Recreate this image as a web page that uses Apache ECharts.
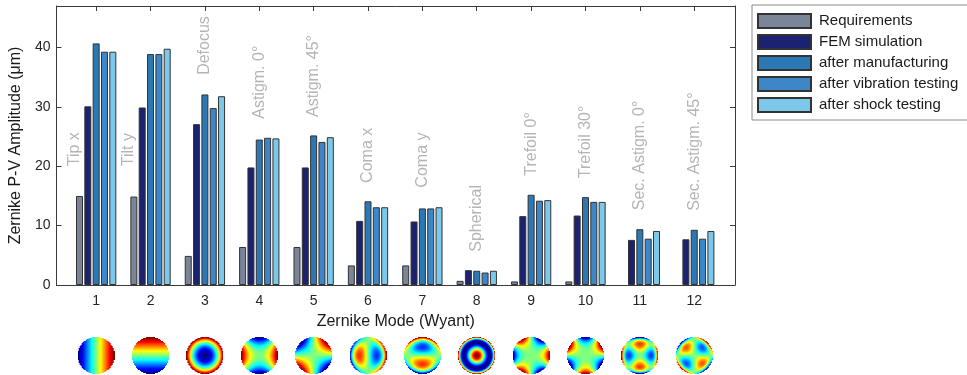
<!DOCTYPE html>
<html>
<head>
<meta charset="utf-8">
<script src="https://cdn.jsdelivr.net/npm/echarts@6/dist/echarts.min.js"></script>
<style>
html,body{margin:0;padding:0;background:#fff;}
#chart{width:967px;height:375px;}
</style>
</head>
<body>
<div id="chart"></div>
<script>
// ---- data ----
const modes = [1, 2, 3, 4, 5, 6, 7, 8, 9, 10, 11, 12];
const modeNames = ['Tip x', 'Tilt y', 'Defocus', 'Astigm. 0°', 'Astigm. 45°', 'Coma x', 'Coma y',
  'Spherical', 'Trefoil 0°', 'Trefoil 30°', 'Sec. Astigm. 0°', 'Sec. Astigm. 45°'];
const requirements      = [15.0, 14.9, 4.9, 6.4, 6.4, 3.3, 3.3, 0.7, 0.6, 0.6, 0, 0];
const femSimulation     = [30.1, 29.9, 27.1, 19.8, 19.8, 10.8, 10.7, 2.5, 11.6, 11.7, 7.6, 7.7];
const afterManufacturing= [40.7, 38.9, 32.1, 24.5, 25.2, 14.1, 12.9, 2.4, 15.2, 14.8, 9.4, 9.3];
const afterVibration    = [39.3, 38.9, 29.8, 24.8, 24.1, 13.1, 12.9, 2.1, 14.2, 14.0, 7.8, 7.8];
const afterShock        = [39.3, 39.8, 31.8, 24.7, 24.9, 13.1, 13.1, 2.4, 14.3, 14.0, 9.1, 9.1];
const seriesNames = ['Requirements', 'FEM simulation', 'after manufacturing', 'after vibration testing', 'after shock testing'];
const yTicks = [0, 10, 20, 30, 40];
// mode-name annotation anchors (axis units: mode position, amplitude)
const annotX = [0.6, 1.59, 3, 4, 5, 6, 7, 8, 9, 10, 11, 12];
const annotY = [20, 20, 35.4, 28, 28.3, 17.2, 16.4, 5.6, 18.4, 18, 12.6, 12.5];

// ---- styles ----
const FONT = '"Liberation Sans", Arial, Helvetica, sans-serif';
const colors = ['#7a8598', '#1b2370', '#2b78b4', '#3d86c8', '#7cc8ea'];
const values = [requirements, femSimulation, afterManufacturing, afterVibration, afterShock];

const chart = echarts.init(document.getElementById('chart'), null, {renderer: 'canvas'});

const barSeries = values.map((arr, k) => ({
  name: seriesNames[k],
  type: 'bar',
  xAxisIndex: 0,
  yAxisIndex: 0,
  barWidth: 7,
  barGap: '19%',
  data: modes.map((m, i) => arr[i] === 0
    ? {value: [m, arr[i]], itemStyle: {borderWidth: 0}}
    : [m, arr[i]]),
  itemStyle: {color: colors[k], borderColor: '#333', borderWidth: 1},
  emphasis: {disabled: true},
  silent: true
}));

const annotSeries = {
  name: 'annotations',
  type: 'scatter',
  xAxisIndex: 0,
  yAxisIndex: 0,
  symbolSize: 1,
  itemStyle: {color: 'rgba(0,0,0,0)'},
  silent: true,
  data: annotX.map((x, i) => [x, annotY[i]]),
  label: {
    show: true,
    position: 'inside',
    rotate: 90,
    align: 'left',
    verticalAlign: 'middle',
    formatter: p => modeNames[p.dataIndex],
    color: '#a3a3a3',
    fontFamily: FONT,
    fontSize: 16
  }
};

const frameColor = '#3a3a3a';
const option = {
  animation: false,
  backgroundColor: '#fff',
  textStyle: {fontFamily: FONT},
  grid: {left: 53, right: 232, top: 6, bottom: 90, containLabel: false},
  legend: {
    data: seriesNames,
    orient: 'vertical',
    left: 752,
    top: 5,
    itemWidth: 53,
    itemHeight: 14,
    itemGap: 5,
    padding: [8, 30, 7, 5],
    borderColor: '#8a8a8a',
    borderWidth: 1,
    icon: 'rect',
    selectedMode: false,
    textStyle: {fontFamily: FONT, fontSize: 15, color: '#1a1a1a', padding: [0, 0, 0, 3]}
  },
  xAxis: [{
    type: 'value',
    min: 0.27,
    max: 12.75,
    position: 'bottom',
    axisLine: {show: true, onZero: false, lineStyle: {color: frameColor, width: 1}},
    axisTick: {show: true, inside: true, length: 5, customValues: modes, lineStyle: {color: frameColor}},
    axisLabel: {show: true, customValues: modes, fontSize: 14, color: '#262626', margin: 9, fontFamily: FONT},
    splitLine: {show: false},
    name: 'Zernike Mode (Wyant)',
    nameLocation: 'middle',
    nameGap: 29,
    nameTextStyle: {fontSize: 16, color: '#1a1a1a', fontFamily: FONT}
  }, {
    type: 'value',
    min: 0.27,
    max: 12.75,
    position: 'top',
    axisLine: {show: true, onZero: false, lineStyle: {color: frameColor, width: 1}},
    axisTick: {show: true, inside: true, length: 5, customValues: modes, lineStyle: {color: frameColor}},
    axisLabel: {show: false},
    splitLine: {show: false}
  }],
  yAxis: [{
    type: 'value',
    min: 0,
    max: 47,
    interval: 10,
    position: 'left',
    axisLine: {show: true, onZero: false, lineStyle: {color: frameColor, width: 1}},
    axisTick: {show: true, inside: true, length: 5, customValues: yTicks, lineStyle: {color: frameColor}},
    axisLabel: {fontSize: 14, color: '#262626', margin: 6, fontFamily: FONT, customValues: yTicks},
    splitLine: {show: false},
    name: 'Zernike P-V Amplitude (μm)',
    nameLocation: 'middle',
    nameGap: 27,
    nameTextStyle: {fontSize: 16, color: '#1a1a1a', fontFamily: FONT}
  }, {
    type: 'value',
    min: 0,
    max: 47,
    interval: 10,
    position: 'right',
    axisLine: {show: true, onZero: false, lineStyle: {color: frameColor, width: 1}},
    axisTick: {show: true, inside: true, length: 5, customValues: yTicks, lineStyle: {color: frameColor}},
    axisLabel: {show: false},
    splitLine: {show: false}
  }],
  series: barSeries.concat([annotSeries])
};
chart.setOption(option);

// ---- Zernike mode maps (Wyant ordering), jet colormap ----
const zern = [
  (r, t) => r * Math.cos(t),
  (r, t) => r * Math.sin(t),
  (r, t) => 2 * r * r - 1,
  (r, t) => r * r * Math.cos(2 * t),
  (r, t) => r * r * Math.sin(2 * t),
  (r, t) => (3 * r * r - 2) * r * Math.cos(t),
  (r, t) => (3 * r * r - 2) * r * Math.sin(t),
  (r, t) => 6 * r ** 4 - 6 * r * r + 1,
  (r, t) => r ** 3 * Math.cos(3 * t),
  (r, t) => r ** 3 * Math.sin(3 * t),
  (r, t) => (4 * r * r - 3) * r * r * Math.cos(2 * t),
  (r, t) => (4 * r * r - 3) * r * r * Math.sin(2 * t)
];
function jet(v) {
  const c = x => Math.max(0, Math.min(1, x));
  return [c(1.5 - Math.abs(4 * v - 3)), c(1.5 - Math.abs(4 * v - 2)), c(1.5 - Math.abs(4 * v - 1))];
}
function discCanvas(f, size) {
  const cv = document.createElement('canvas');
  cv.width = size; cv.height = size;
  const ctx = cv.getContext('2d');
  const img = ctx.createImageData(size, size);
  const vals = [];
  let mn = Infinity, mx = -Infinity;
  for (let j = 0; j < size; j++) {
    for (let i = 0; i < size; i++) {
      const x = (i + 0.5) / size * 2 - 1;
      const y = 1 - (j + 0.5) / size * 2;
      const r = Math.sqrt(x * x + y * y);
      if (r <= 1) {
        const v = f(r, Math.atan2(y, x));
        vals.push(v);
        mn = Math.min(mn, v); mx = Math.max(mx, v);
      } else vals.push(null);
    }
  }
  for (let k = 0; k < vals.length; k++) {
    const v = vals[k];
    if (v === null) { img.data[k * 4 + 3] = 0; continue; }
    const col = jet((v - mn) / (mx - mn || 1));
    img.data[k * 4] = Math.round(col[0] * 255);
    img.data[k * 4 + 1] = Math.round(col[1] * 255);
    img.data[k * 4 + 2] = Math.round(col[2] * 255);
    img.data[k * 4 + 3] = 255;
  }
  ctx.putImageData(img, 0, 0);
  return cv;
}
const D = 37;
const graphics = modes.map((m, i) => {
  const px = chart.convertToPixel({xAxisIndex: 0}, m);
  return {
    type: 'image',
    silent: true,
    style: {image: discCanvas(zern[i], D), x: px - D / 2, y: 337, width: D, height: D}
  };
});
chart.setOption({graphic: graphics});
</script>
</body>
</html>
